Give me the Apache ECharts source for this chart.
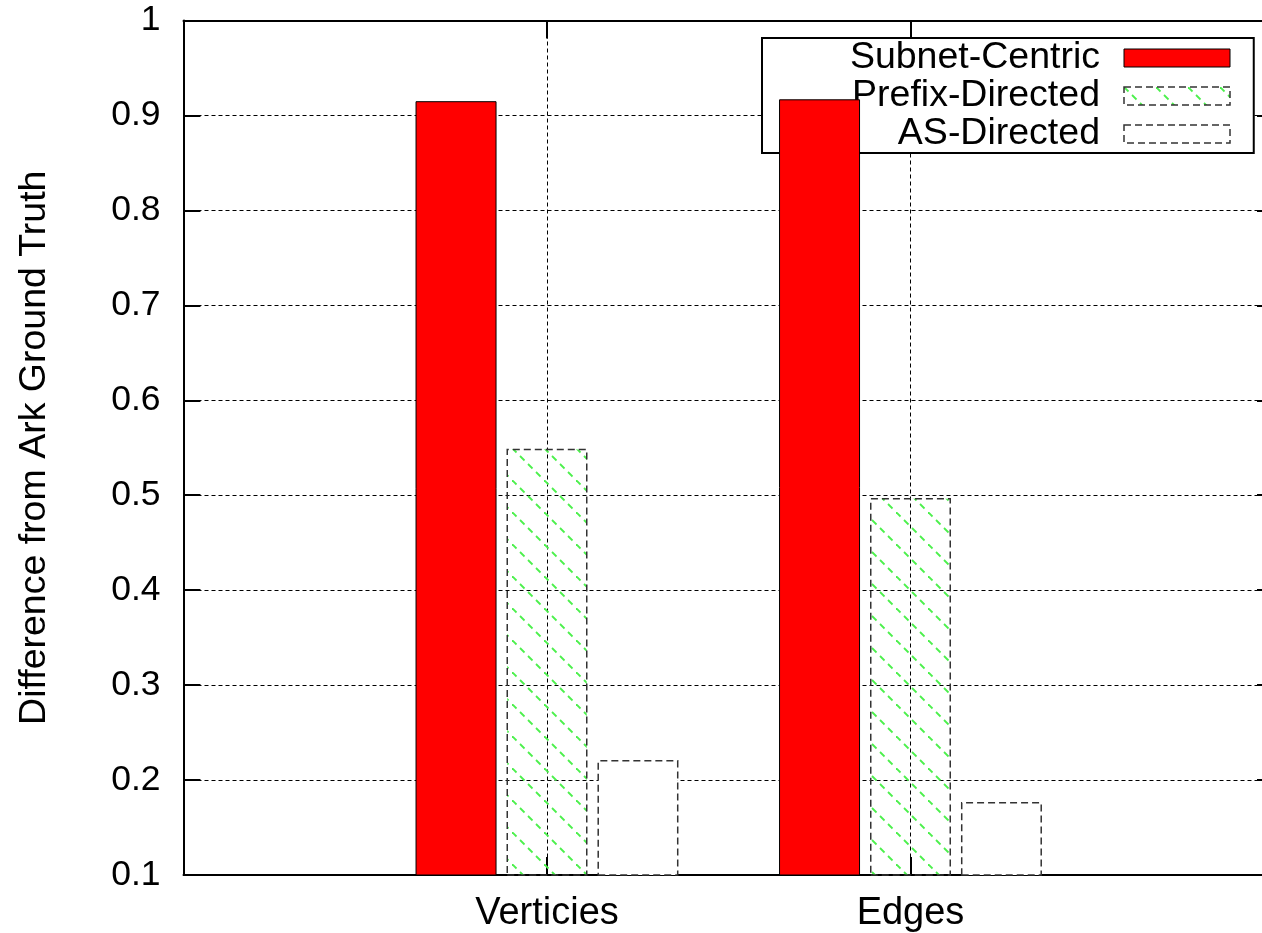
<!DOCTYPE html>
<html>
<head>
<meta charset="utf-8">
<title>Difference from Ark Ground Truth</title>
<script src="https://cdn.jsdelivr.net/npm/echarts@6/dist/echarts.min.js"></script>
<style>
  html, body { margin: 0; padding: 0; background: #fff; overflow: hidden; }
  /* the plot frame runs on past the right edge of the window */
  #chart { width: 1280px; height: 933px; }
</style>
</head>
<body>
<div id="chart"></div>
<script>
// Categories sit at x = 0, 1 on a numeric axis running from -1 to 2
const categories = ['Verticies', 'Edges'];
const seriesNames = ['Subnet-Centric', 'Prefix-Directed', 'AS-Directed'];
const subnetCentric = [0.915, 0.917];
const prefixDirected = [0.549, 0.497];
const asDirected = [0.221, 0.177];
const yTicks = { min: 0.1, max: 1, step: 0.1 };

const FONT = 'Liberation Sans, Arial, Helvetica, sans-serif';

// Diagonal dashed green hatch tile
function hatchTile() {
  const s = 32;
  const c = document.createElement('canvas');
  c.width = s; c.height = s;
  const g = c.getContext('2d');
  g.strokeStyle = '#4cf04c';
  g.lineWidth = 1.8;
  g.lineCap = 'butt';
  for (let k = -1; k < 5; k++) {
    const a = k * 8;
    g.beginPath();
    g.moveTo(a, a);
    g.lineTo(a + 4.5, a + 4.5);
    g.stroke();
  }
  return c;
}

const toPairs = vals => vals.map((v, i) => [i, v]);

const chart = echarts.init(document.getElementById('chart'), null, { renderer: 'canvas' });

const frameLine = { show: true, onZero: false, lineStyle: { color: '#000', width: 2 } };
const dashedBorder = [7, 4];

const hatch = { image: hatchTile(), repeat: 'repeat' };
const styles = [
  { color: '#ff0000', borderColor: '#000', borderWidth: 1 },
  { color: hatch, borderColor: '#333', borderWidth: 1.5, borderType: dashedBorder },
  { color: '#fff', borderColor: '#333', borderWidth: 1.5, borderType: dashedBorder }
];
const values = [subnetCentric, prefixDirected, asDirected];

chart.setOption({
  backgroundColor: '#fff',
  animation: false,
  textStyle: { fontFamily: FONT, color: '#000' },
  grid: { left: 183.5, top: 20.5, right: 6, bottom: 58, containLabel: false },
  legend: {
    orient: 'vertical',
    left: 762,
    top: 38,
    z: 1,
    align: 'right',
    icon: 'rect',
    selectedMode: false,
    padding: [1, 23, 0, 38],
    itemGap: 0,
    itemWidth: 106,
    itemHeight: 18,
    backgroundColor: '#fff',
    borderColor: '#000',
    borderWidth: 2,
    data: seriesNames.map((n, i) => ({ name: n, icon: 'rect', itemStyle: styles[i] })),
    formatter: name => '{t|' + name + '}',
    textStyle: {
      rich: {
        t: {
          fontFamily: FONT, fontSize: 37.5, color: '#000',
          width: 300, align: 'right', lineHeight: 34,
          padding: [0, 19, 0, 0]
        }
      }
    }
  },
  xAxis: [
    {
      type: 'value', position: 'bottom',
      min: -1, max: 2, interval: 1,
      axisLine: frameLine,
      axisTick: { show: true, inside: true, length: 18, lineStyle: { color: '#000', width: 2 } },
      axisLabel: {
        fontSize: 38, color: '#000', fontFamily: FONT, margin: 20,
        formatter: v => categories[Math.round(v)] !== undefined && Math.abs(v - Math.round(v)) < 1e-9 ? categories[Math.round(v)] : ''
      },
      splitLine: { show: true, lineStyle: { color: '#000', width: 1, type: [4, 3] } }
    },
    {
      type: 'value', position: 'top',
      min: -1, max: 2, interval: 1,
      axisLine: frameLine,
      axisTick: { show: true, inside: true, length: 18, lineStyle: { color: '#000', width: 2 } },
      axisLabel: { show: false },
      splitLine: { show: false }
    }
  ],
  yAxis: [
    {
      type: 'value', position: 'left',
      min: yTicks.min, max: yTicks.max, interval: yTicks.step,
      name: 'Difference from Ark Ground Truth',
      nameLocation: 'middle',
      nameRotate: 90,
      nameGap: 130,
      nameTextStyle: { fontSize: 37.5, color: '#000', fontFamily: FONT },
      axisLine: frameLine,
      axisTick: { show: true, inside: true, length: 17, lineStyle: { color: '#000', width: 2 } },
      axisLabel: {
        fontSize: 35.5, color: '#000', fontFamily: FONT, margin: 23,
        formatter: v => String(Math.round(v * 10) / 10)
      },
      splitLine: { show: true, lineStyle: { color: '#000', width: 1, type: [4, 3] } }
    },
    {
      type: 'value', position: 'right',
      min: yTicks.min, max: yTicks.max, interval: yTicks.step,
      axisLine: frameLine,
      axisTick: { show: true, inside: true, length: 17, lineStyle: { color: '#000', width: 2 } },
      axisLabel: { show: false },
      splitLine: { show: false }
    }
  ],
  series: seriesNames.map((n, i) => ({
    name: n, type: 'bar', z: 2,
    xAxisIndex: 0, yAxisIndex: 0,
    barWidth: 81, barGap: '12.3%',
    itemStyle: styles[i],
    data: toPairs(values[i])
  }))
});
</script>
</body>
</html>
